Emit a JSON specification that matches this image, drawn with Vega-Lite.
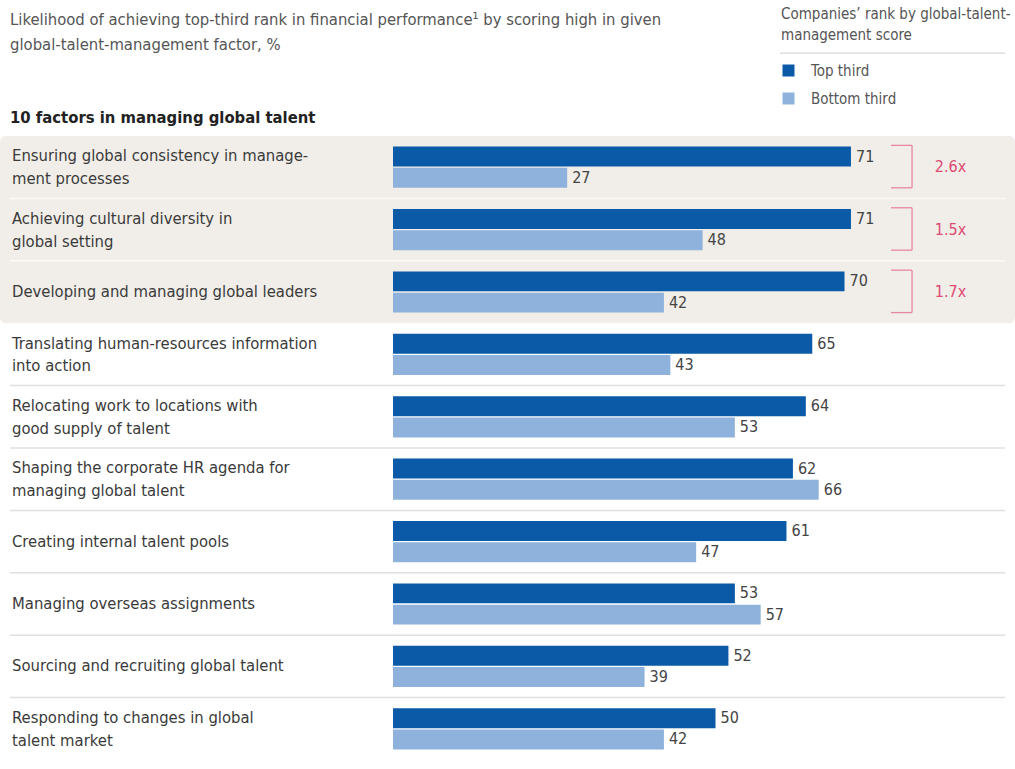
{
  "$schema": "https://vega.github.io/schema/vega-lite/v6.json",
  "width": 1015,
  "height": 624,
  "autosize": {"type": "none"},
  "padding": {"left": 0, "right": 0, "top": 136, "bottom": 9},
  "background": "white",
  "config": {
    "view": {"stroke": null},
    "font": "Liberation Sans Narrow, DejaVu Sans Condensed, sans-serif",
    "legend": {
      "orient": "none",
      "legendX": 781,
      "legendY": -129,
      "titleFontSize": 15,
      "titleFontWeight": "normal",
      "titleColor": "#555555",
      "titleLineHeight": 21,
      "titlePadding": 20,
      "titleLimit": 400,
      "labelFontSize": 15,
      "labelColor": "#555555",
      "labelOffset": 15,
      "symbolType": "square",
      "symbolSize": 144,
      "symbolStrokeWidth": 0,
      "rowPadding": 12
    }
  },
  "title": {
    "text": ["Likelihood of achieving top-third rank in financial performance¹ by scoring high in given", "global-talent-management factor, %"],
    "subtitle": "10 factors in managing global talent",
    "anchor": "start",
    "frame": "group",
    "dx": 10,
    "dy": 129,
    "fontSize": 16.5,
    "fontWeight": "normal",
    "color": "#555555",
    "lineHeight": 25,
    "subtitleFontSize": 16.5,
    "subtitleFontWeight": "bold",
    "subtitleColor": "#222222",
    "subtitlePadding": 56,
    "offset": 10
  },
  "datasets": {
    "factors": [
      {"id": "f1", "line1": "Ensuring global consistency in manage-", "line2": "ment processes", "highlight": 1, "ratio": "2.6x"},
      {"id": "f2", "line1": "Achieving cultural diversity in", "line2": "global setting", "highlight": 1, "ratio": "1.5x"},
      {"id": "f3", "line1": "Developing and managing global leaders", "line2": null, "highlight": 1, "ratio": "1.7x"},
      {"id": "f4", "line1": "Translating human-resources information", "line2": "into action", "highlight": 0, "ratio": null},
      {"id": "f5", "line1": "Relocating work to locations with", "line2": "good supply of talent", "highlight": 0, "ratio": null},
      {"id": "f6", "line1": "Shaping the corporate HR agenda for", "line2": "managing global talent", "highlight": 0, "ratio": null},
      {"id": "f7", "line1": "Creating internal talent pools", "line2": null, "highlight": 0, "ratio": null},
      {"id": "f8", "line1": "Managing overseas assignments", "line2": null, "highlight": 0, "ratio": null},
      {"id": "f9", "line1": "Sourcing and recruiting global talent", "line2": null, "highlight": 0, "ratio": null},
      {"id": "f10", "line1": "Responding to changes in global", "line2": "talent market", "highlight": 0, "ratio": null}
    ],
    "bars": [
      {"id": "f1", "series": "Top third", "value": 71},
      {"id": "f1", "series": "Bottom third", "value": 27},
      {"id": "f2", "series": "Top third", "value": 71},
      {"id": "f2", "series": "Bottom third", "value": 48},
      {"id": "f3", "series": "Top third", "value": 70},
      {"id": "f3", "series": "Bottom third", "value": 42},
      {"id": "f4", "series": "Top third", "value": 65},
      {"id": "f4", "series": "Bottom third", "value": 43},
      {"id": "f5", "series": "Top third", "value": 64},
      {"id": "f5", "series": "Bottom third", "value": 53},
      {"id": "f6", "series": "Top third", "value": 62},
      {"id": "f6", "series": "Bottom third", "value": 66},
      {"id": "f7", "series": "Top third", "value": 61},
      {"id": "f7", "series": "Bottom third", "value": 47},
      {"id": "f8", "series": "Top third", "value": 53},
      {"id": "f8", "series": "Bottom third", "value": 57},
      {"id": "f9", "series": "Top third", "value": 52},
      {"id": "f9", "series": "Bottom third", "value": 39},
      {"id": "f10", "series": "Top third", "value": 50},
      {"id": "f10", "series": "Bottom third", "value": 42}
    ],
    "band": [{"from": "f1", "to": "f3"}]
  },
  "layer": [
    {
      "data": {"name": "band"},
      "mark": {"type": "rect", "color": "#f1eee9", "cornerRadius": 6},
      "encoding": {
        "x": {"datum": -60.93, "type": "quantitative", "scale": {"domain": [-60.93, 96.43], "nice": false, "zero": false}, "axis": null},
        "x2": {"datum": 96.43},
        "y": {"field": "from", "type": "nominal", "bandPosition": -0.257, "scale": {"domain": ["f1","f2","f3","f4","f5","f6","f7","f8","f9","f10"], "paddingInner": 0.34, "paddingOuter": 0.17}, "axis": null},
        "y2": {"field": "to", "bandPosition": 1.257}
      }
    },
    {
      "data": {"name": "band"},
      "mark": {"type": "rule", "color": "#cccccc", "strokeWidth": 1},
      "encoding": {
        "x": {"datum": 60.0, "type": "quantitative"},
        "x2": {"datum": 94.9},
        "y": {"field": "from", "type": "nominal", "bandPosition": -2.27, "axis": null}
      }
    },
    {
      "data": {"name": "factors"},
      "transform": [{"filter": "datum.id != 'f10'"}],
      "mark": {"type": "rule", "strokeWidth": 1.5},
      "encoding": {
        "x": {"datum": -59.4, "type": "quantitative"},
        "x2": {"datum": 94.9},
        "y": {"field": "id", "type": "nominal", "bandPosition": 1.257, "axis": null},
        "color": {"condition": {"test": "datum.highlight == 1", "value": "#fbfaf8"}, "value": "#e0e0e0"}
      }
    },
    {
      "data": {"name": "bars"},
      "mark": {"type": "bar"},
      "encoding": {
        "x": {"field": "value", "type": "quantitative"},
        "y": {"field": "id", "type": "nominal", "axis": null},
        "yOffset": {"field": "series", "type": "nominal", "sort": ["Top third", "Bottom third"], "scale": {"paddingInner": 0.06}},
        "color": {
          "field": "series", "type": "nominal", "sort": ["Top third", "Bottom third"],
          "scale": {"domain": ["Top third", "Bottom third"], "range": ["#0b5aa8", "#8eb2db"]},
          "legend": {"title": ["Companies’ rank by global-talent-", "management score"]}
        }
      }
    },
    {
      "data": {"name": "bars"},
      "mark": {"type": "text", "align": "left", "baseline": "middle", "dx": 5, "fontSize": 16, "color": "#444444"},
      "encoding": {
        "x": {"field": "value", "type": "quantitative"},
        "y": {"field": "id", "type": "nominal", "axis": null},
        "yOffset": {"field": "series", "type": "nominal", "sort": ["Top third", "Bottom third"]},
        "text": {"field": "value", "type": "quantitative"}
      }
    },
    {
      "data": {"name": "factors"},
      "transform": [{"filter": "isValid(datum.line2)"}],
      "mark": {"type": "text", "align": "left", "baseline": "middle", "fontSize": 16.5, "color": "#3a3a3a"},
      "encoding": {
        "x": {"datum": -59.07, "type": "quantitative"},
        "y": {"field": "id", "type": "nominal", "bandPosition": 0.24, "axis": null},
        "text": {"field": "line1", "type": "nominal"}
      }
    },
    {
      "data": {"name": "factors"},
      "transform": [{"filter": "isValid(datum.line2)"}],
      "mark": {"type": "text", "align": "left", "baseline": "middle", "fontSize": 16.5, "color": "#3a3a3a"},
      "encoding": {
        "x": {"datum": -59.07, "type": "quantitative"},
        "y": {"field": "id", "type": "nominal", "bandPosition": 0.79, "axis": null},
        "text": {"field": "line2", "type": "nominal"}
      }
    },
    {
      "data": {"name": "factors"},
      "transform": [{"filter": "!isValid(datum.line2)"}],
      "mark": {"type": "text", "align": "left", "baseline": "middle", "fontSize": 16.5, "color": "#3a3a3a"},
      "encoding": {
        "x": {"datum": -59.07, "type": "quantitative"},
        "y": {"field": "id", "type": "nominal", "bandPosition": 0.5, "axis": null},
        "text": {"field": "line1", "type": "nominal"}
      }
    },
    {
      "data": {"name": "factors"},
      "transform": [{"filter": "isValid(datum.ratio)"}],
      "mark": {"type": "rule", "color": "#e8869f", "strokeWidth": 1.3},
      "encoding": {
        "x": {"datum": 80.47, "type": "quantitative"},
        "y": {"field": "id", "type": "nominal", "bandPosition": -0.03, "axis": null},
        "y2": {"field": "id", "bandPosition": 1.0}
      }
    },
    {
      "data": {"name": "factors"},
      "transform": [{"filter": "isValid(datum.ratio)"}],
      "mark": {"type": "rule", "color": "#e8869f", "strokeWidth": 1.3},
      "encoding": {
        "x": {"datum": 77.2, "type": "quantitative"},
        "x2": {"datum": 80.47},
        "y": {"field": "id", "type": "nominal", "bandPosition": -0.03, "axis": null}
      }
    },
    {
      "data": {"name": "factors"},
      "transform": [{"filter": "isValid(datum.ratio)"}],
      "mark": {"type": "rule", "color": "#e8869f", "strokeWidth": 1.3},
      "encoding": {
        "x": {"datum": 77.2, "type": "quantitative"},
        "x2": {"datum": 80.47},
        "y": {"field": "id", "type": "nominal", "bandPosition": 1.0, "axis": null}
      }
    },
    {
      "data": {"name": "factors"},
      "transform": [{"filter": "isValid(datum.ratio)"}],
      "mark": {"type": "text", "align": "left", "baseline": "middle", "fontSize": 16, "color": "#de4a73"},
      "encoding": {
        "x": {"datum": 84.0, "type": "quantitative"},
        "y": {"field": "id", "type": "nominal", "axis": null},
        "text": {"field": "ratio", "type": "nominal"}
      }
    }
  ]
}
